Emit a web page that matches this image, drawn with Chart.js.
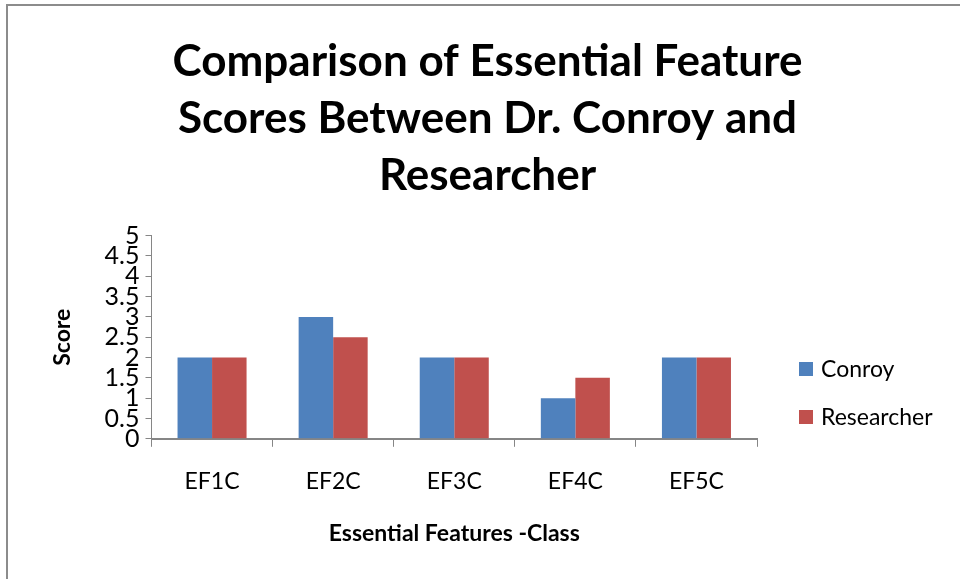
<!DOCTYPE html>
<html>
<head>
<meta charset="utf-8">
<script src="https://cdn.jsdelivr.net/npm/chart.js@4.4.1/dist/chart.umd.min.js"></script>
<style>
    html, body { margin: 0; padding: 0; background: #fff; }
    #wrap { position: relative; width: 960px; height: 579px; }
    #frame {
        position: absolute; left: 6px; top: 4px; right: -10px; bottom: -10px;
        border-top: 2px solid #8c8c8c; border-left: 2px solid #8c8c8c;
        pointer-events: none;
    }
</style>
</head>
<body>
<div id="wrap">
    <canvas id="chart" width="960" height="579"></canvas>
    <div id="frame"></div>
</div>
<script>
const categories = ["EF1C", "EF2C", "EF3C", "EF4C", "EF5C"];
const conroyScores = [2, 3, 2, 1, 2];
const researcherScores = [2, 2.5, 2, 1.5, 2];
const titleLines = ["Comparison of Essential Feature", "Scores Between Dr. Conroy and", "Researcher"];

const fontFamily = "Lato, 'Open Sans', sans-serif";
const axisColor = "#868686";

// legend drawn by hand so it sits where the original has it
const sideLegend = {
    id: "sideLegend",
    afterDraw(chart) {
        const ctx = chart.ctx;
        ctx.save();
        ctx.font = `23px ${fontFamily}`;
        ctx.textBaseline = "middle";
        chart.data.datasets.forEach((ds, i) => {
            const y = 369 + i * 48;
            ctx.fillStyle = ds.backgroundColor;
            ctx.fillRect(799, y - 7, 14, 14);
            ctx.fillStyle = "#000";
            ctx.fillText(ds.label, 821, y + 1);
        });
        ctx.restore();
    },
};

const chartElement = document.getElementById("chart");

new Chart(chartElement, {
    type: "bar",
    data: {
        labels: categories,
        datasets: [
            {
                label: "Conroy",
                data: conroyScores,
                backgroundColor: "#4F81BD",
                categoryPercentage: 0.57,
                barPercentage: 1,
            },
            {
                label: "Researcher",
                data: researcherScores,
                backgroundColor: "#C0504D",
                categoryPercentage: 0.57,
                barPercentage: 1,
            },
        ],
    },
    options: {
        responsive: false,
        animation: false,
        layout: {
            padding: { left: 45, right: 30, top: 0, bottom: 28 },
        },
        plugins: {
            title: {
                display: true,
                text: titleLines,
                color: "#000",
                font: { family: fontFamily, size: 44, weight: "bold", lineHeight: 1.3 },
                padding: { top: 33, bottom: 31 },
            },
            legend: { display: false },
            tooltip: { enabled: false },
        },
        scales: {
            x: {
                grid: {
                    drawOnChartArea: false,
                    drawTicks: true,
                    tickLength: 8,
                    color: axisColor,
                },
                border: { display: true, color: axisColor, width: 2 },
                ticks: {
                    color: "#000",
                    font: { family: fontFamily, size: 23 },
                    padding: 21,
                },
                title: {
                    display: true,
                    text: "Essential Features -Class",
                    color: "#000",
                    font: { family: fontFamily, size: 23, weight: "bold" },
                    padding: { top: 3 },
                },
            },
            y: {
                min: 0,
                max: 5,
                grid: {
                    drawOnChartArea: false,
                    drawTicks: true,
                    tickLength: 6,
                    color: axisColor,
                },
                border: { display: true, color: axisColor, width: 1 },
                ticks: {
                    stepSize: 0.5,
                    autoSkip: false,
                    color: "#000",
                    font: { family: fontFamily, size: 25, lineHeight: 1 },
                    padding: 6,
                    callback: (value) => String(value),
                },
                title: {
                    display: true,
                    text: "Score",
                    color: "#000",
                    font: { family: fontFamily, size: 23, weight: "bold" },
                    padding: { bottom: 22 },
                },
            },
            // empty right-hand axis that only reserves room for the legend
            legendSpace: {
                type: "linear",
                position: "right",
                display: true,
                grid: { display: false },
                border: { display: false },
                ticks: { display: false },
                afterFit: (scale) => {
                    scale.width = 173;
                },
            },
        },
    },
    plugins: [sideLegend],
});
</script>
</body>
</html>
